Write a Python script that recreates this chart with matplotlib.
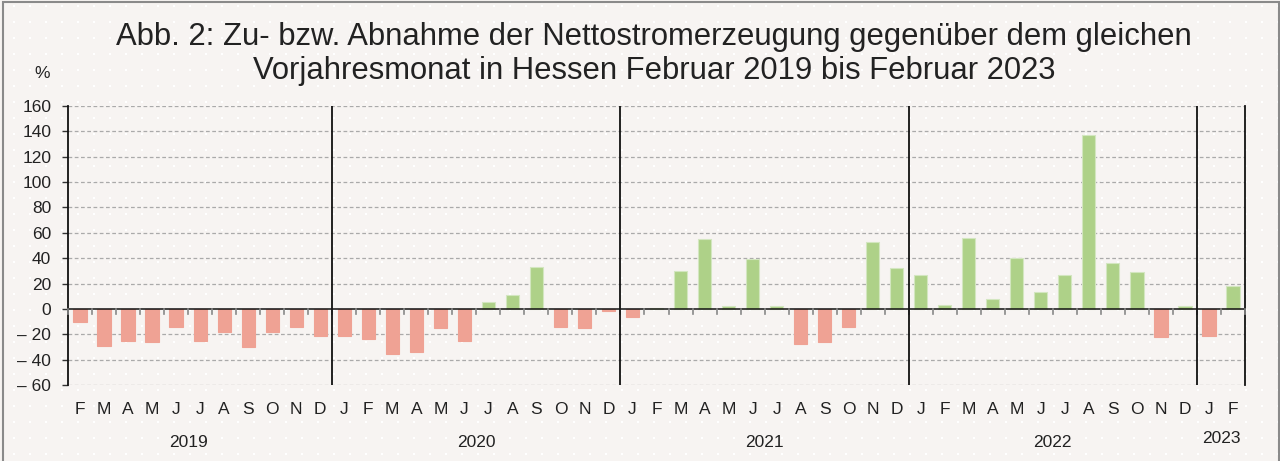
import matplotlib
matplotlib.use("Agg")
import matplotlib.pyplot as plt
import matplotlib.transforms as mtransforms
from matplotlib.patches import Rectangle
import numpy as np

plt.rcParams['font.family'] = ['Liberation Sans', 'DejaVu Sans']

# ---- data ----
months = ["F", "M", "A", "M", "J", "J", "A", "S", "O", "N", "D",
          "J", "F", "M", "A", "M", "J", "J", "A", "S", "O", "N", "D",
          "J", "F", "M", "A", "M", "J", "J", "A", "S", "O", "N", "D",
          "J", "F", "M", "A", "M", "J", "J", "A", "S", "O", "N", "D",
          "J", "F"]
values = [-10, -29, -25.5, -26, -14, -25, -18, -30, -18, -14.5, -21,
          -21.5, -24, -35.7, -34, -15, -25.5, 5.5, 11, 33, -14.5, -15, -2,
          -6.5, 1, 30, 55, 2, 39, 2, -28, -26, -14.5, 53, 32,
          27, 3, 56, 7.5, 40, 13.5, 27, 137, 36, 29, -22, 2,
          -21.5, 18]
years = ["2019", "2020", "2021", "2022", "2023"]
year_start = [0, 11, 23, 35, 47]   # index of first month in each year
year_len = [11, 12, 12, 12, 2]
yticks = [-60, -40, -20, 0, 20, 40, 60, 80, 100, 120, 140, 160]
ytick_labels = ["\u2013 60", "\u2013 40", "\u2013 20", "0", "20", "40", "60",
                "80", "100", "120", "140", "160"]
title = ("Abb. 2: Zu- bzw. Abnahme der Nettostromerzeugung gegen\u00fcber dem gleichen\n"
         "Vorjahresmonat in Hessen Februar 2019 bis Februar 2023")

# ---- style ----
BG = "#f7f4f2"
RED = "#efa294"
GREEN = "#aed188"

fig = plt.figure(figsize=(12.8, 4.61), dpi=100)
fig.patch.set_facecolor(BG)

# faint dotted background texture
gx, gy = np.meshgrid(np.arange(14, 1280, 16), np.arange(6, 461, 16))
fig.add_artist(plt.Line2D(gx.ravel() / 1280, 1 - gy.ravel() / 461, ls="none",
                          marker="s", ms=1.5, mew=0, color="#ffffff",
                          transform=fig.transFigure, zorder=0))

ax = fig.add_axes([68/1280, 1-385/461, (1245-68)/1280, (385-106)/461])
ax.set_facecolor("none")

x = list(range(len(values)))
colors = [GREEN if v >= 0 else RED for v in values]
edges = ["#d3e6c0" if v >= 0 else RED for v in values]
ax.bar(x, values, width=0.55, color=colors, edgecolor=edges, linewidth=0.8, zorder=3)

ax.set_xlim(-0.5, len(values) - 0.5)
ax.set_ylim(-60, 160)
ax.set_yticks(yticks)
ax.set_yticklabels(ytick_labels, fontsize=12.5, color="#222222")
ax.tick_params(axis="y", length=4, width=1, color="#333333", pad=8)

ax.set_xticks(x)
ax.set_xticklabels(months, fontsize=12.5, color="#222222")
ax.tick_params(axis="x", length=0, pad=12)

# gridlines
for yv in yticks:
    if yv != 0:
        ax.axhline(yv, color="#aaaaaa", lw=0.9, ls=(0, (3, 2)), zorder=1)
ax.axhline(0, color="#111111", lw=1.1, zorder=4)

# small month ticks on zero line
for b in range(len(values) + 1):
    ax.plot([b - 0.5, b - 0.5], [0, -4.3], color="#888888", lw=1.2, zorder=4, clip_on=False)

# year separators
for s in year_start[1:]:
    ax.axvline(s - 0.5, color="#111111", lw=1.3, zorder=4)

for side in ["top", "bottom"]:
    ax.spines[side].set_visible(False)
for side in ["left", "right"]:
    ax.spines[side].set_color("#111111")
    ax.spines[side].set_linewidth(1.3)

# year labels
trans = mtransforms.blended_transform_factory(ax.transData, ax.transAxes)
for i, (yr, st, ln) in enumerate(zip(years, year_start, year_len)):
    if i == 0:
        cx = (st + ln - 12 + st + ln - 1) / 2
    else:
        cx = st + (ln - 1) / 2
    ypos = -0.205 if i < 4 else -0.19
    ax.text(cx, ypos, yr, transform=trans, ha="center", va="center",
            fontsize=12.5, color="#222222")

# title and unit
fig.text(654/1280, 1 - 54/461, title, ha="center", va="center",
         fontsize=22.3, color="#222222", linespacing=1.2)
fig.text(42/1280, 1 - 73/461, "%", ha="center", va="center", fontsize=12.5, color="#222222")

# border
fig.patches.append(Rectangle((3/1280, -0.01), (1279-3)/1280, 1.01 - 2/461,
                             transform=fig.transFigure, fill=False,
                             edgecolor="#8a8a8a", lw=1.5))

fig.savefig("out.png", dpi=100, facecolor=BG)
